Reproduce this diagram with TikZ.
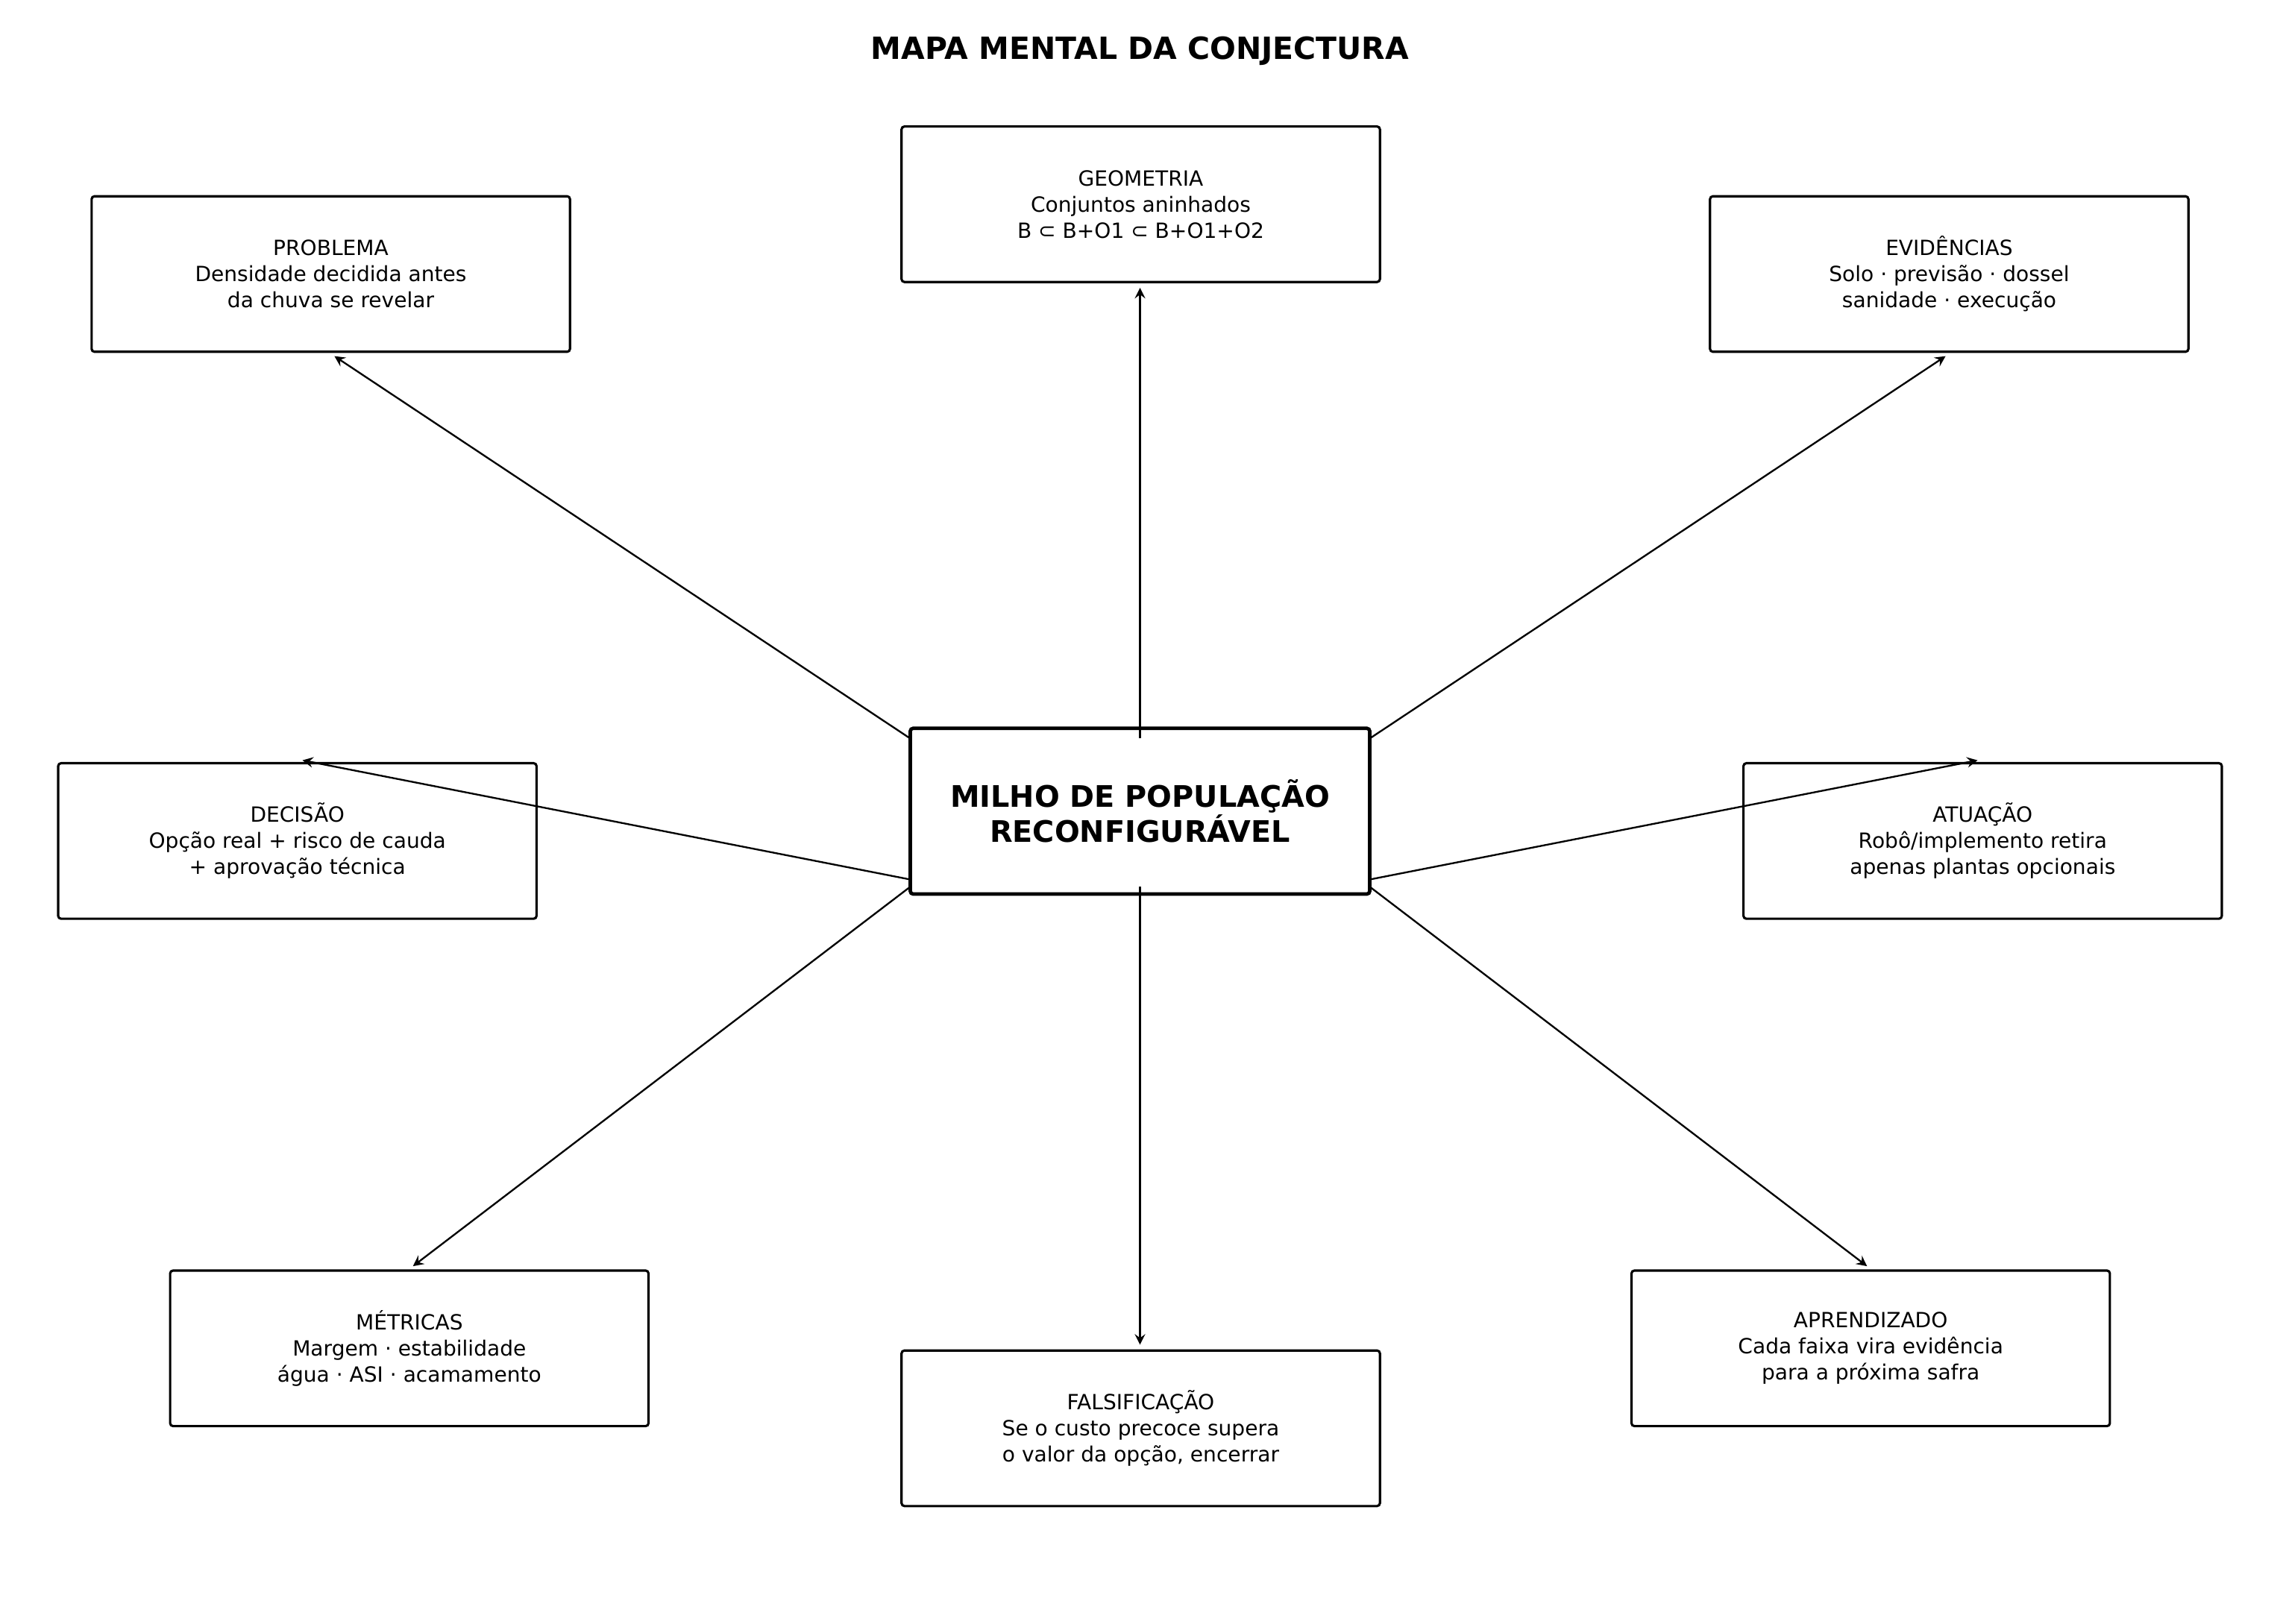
\documentclass[tikz,border=0pt]{standalone}
\usepackage{fontspec}
\setmainfont{DejaVu Sans}
\begin{document}
\begin{tikzpicture}[x=0.5pt,y=-0.5pt,
  box/.style={draw,line width=0.8pt,rounded corners=1pt,minimum width=164.5pt,minimum height=53.5pt,align=center,font=\fontsize{7.2}{9}\selectfont,inner sep=0pt},
  arr/.style={-stealth,line width=0.6pt}]
\useasboundingbox (0,0) rectangle (1568,1117);
\node[font=\bfseries\fontsize{10.5}{12}\selectfont] (t) at (784,35) {MAPA MENTAL DA CONJECTURA};
\node[box,draw,line width=1.2pt,minimum width=158pt,minimum height=57pt,font=\bfseries\fontsize{10.2}{12}\selectfont] (c) at (784,558) {MILHO DE POPULAÇÃO\\RECONFIGURÁVEL};
\node[box] (p) at (227.5,188.5) {PROBLEMA\\Densidade decidida antes\\da chuva se revelar};
\node[box] (g) at (784.5,140.5) {GEOMETRIA\\Conjuntos aninhados\\B ⊂ B+O1 ⊂ B+O1+O2};
\node[box] (e) at (1340.5,188.5) {EVIDÊNCIAS\\Solo · previsão · dossel\\sanidade · execução};
\node[box] (d) at (204.5,578.5) {DECISÃO\\Opção real + risco de cauda\\+ aprovação técnica};
\node[box] (a) at (1363.5,578.5) {ATUAÇÃO\\Robô/implemento retira\\apenas plantas opcionais};
\node[box] (m) at (281.5,927.5) {MÉTRICAS\\Margem · estabilidade\\água · ASI · acamamento};
\node[box] (f) at (784.5,982.5) {FALSIFICAÇÃO\\Se o custo precoce supera\\o valor da opção, encerrar};
\node[box] (ap) at (1286.5,927.5) {APRENDIZADO\\Cada faixa vira evidência\\para a próxima safra};
\coordinate (s1) at (626,508); \coordinate (e1) at (230,245);
\coordinate (s2) at (784,508); \coordinate (e2) at (784,198);
\coordinate (s3) at (942,508); \coordinate (e3) at (1338,245);
\coordinate (s4) at (626,605); \coordinate (e4) at (208,523);
\coordinate (s5) at (942,605); \coordinate (e5) at (1360,523);
\coordinate (s6) at (626,610); \coordinate (e6) at (284,871);
\coordinate (s7) at (784,610); \coordinate (e7) at (784,925);
\coordinate (s8) at (942,610); \coordinate (e8) at (1284,871);
\foreach \i in {1,...,8} \draw[arr] (s\i) -- (e\i);
\end{tikzpicture}
\end{document}
